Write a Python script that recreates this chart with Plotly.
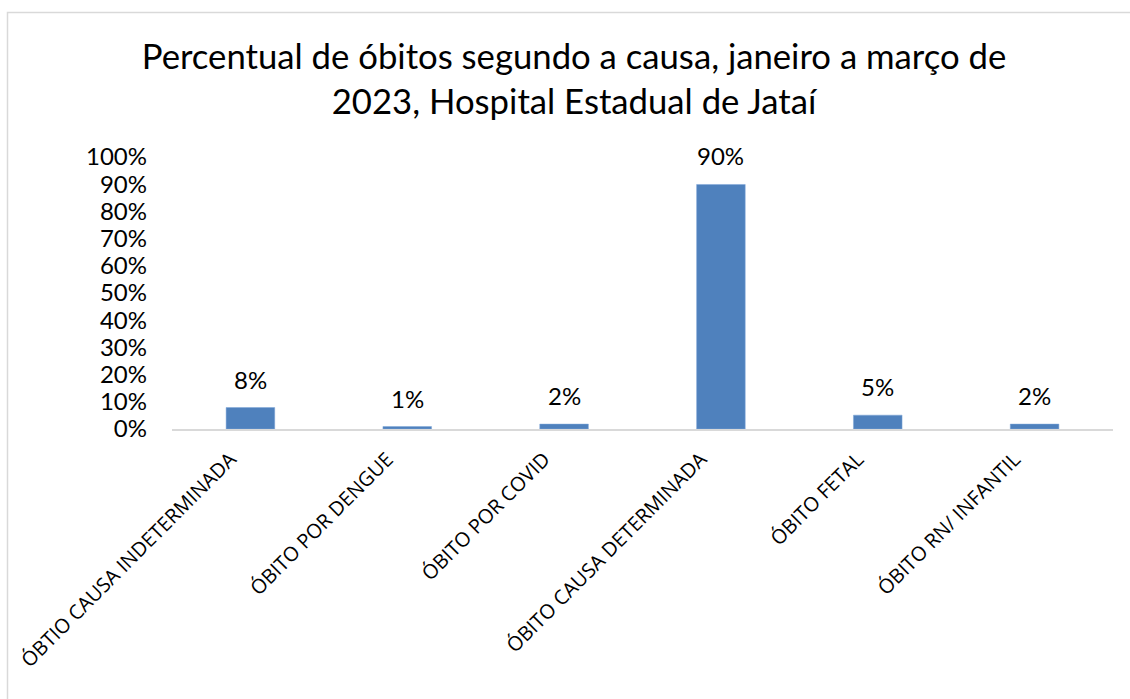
import plotly.graph_objects as go

categories = ["ÓBTIO CAUSA INDETERMINADA", "ÓBITO POR DENGUE", "ÓBITO POR COVID",
              "ÓBITO CAUSA DETERMINADA", "ÓBITO FETAL", "ÓBITO RN/ INFANTIL"]
values = [0.079, 0.009, 0.018, 0.899, 0.051, 0.018]
tick_vals = [i / 10 for i in range(11)]
tick_text = [f"{i * 10}%" for i in range(11)]
title_text = "Percentual de óbitos segundo a causa, janeiro a março de<br>2023, Hospital Estadual de Jataí"

W, H = 1130, 699
ml, mr, mt, mb = 172, 17, 157, 270
pw, ph = W - ml - mr, H - mt - mb

def sx(px):
    return (px - ml) / pw

def sy(py):
    return (H - mb - py) / ph

fig = go.Figure(go.Bar(
    x=categories, y=values,
    marker=dict(color="#4f81bd", line=dict(color="#7ea6d8", width=0.5)),
    width=0.31,
))

for c, v in zip(categories, values):
    fig.add_annotation(x=c, y=v, text=f"{round(v * 100)}%", showarrow=False,
                       xanchor="center", yanchor="bottom", yshift=12,
                       font=dict(family="Lato, Open Sans", size=24, color="#000000"))

fig.update_layout(
    width=W, height=H,
    margin=dict(l=ml, r=mr, t=mt, b=mb, autoexpand=False),
    paper_bgcolor="white", plot_bgcolor="white",
    showlegend=False,
    title=dict(text=title_text, x=574 / W, xanchor="center",
               y=1 - 69 / H, yanchor="middle",
               font=dict(family="Lato, Open Sans, sans-serif", size=34.7, color="#000000")),
    xaxis=dict(
        tickangle=-45, showline=True, linecolor="#d9d9d9", linewidth=1.5,
        showgrid=False, ticks="", zeroline=False,
        tickfont=dict(family="Open Sans, DejaVu Sans", size=20, color="#000000"),
        ticklabelshift=-20, ticklabelstandoff=9,
    ),
    yaxis=dict(
        range=[0, 1], tickvals=tick_vals, ticktext=tick_text,
        showgrid=False, zeroline=False, showline=False, ticks="",
        tickfont=dict(family="Lato, Open Sans", size=24, color="#000000"),
        ticklabelstandoff=24,
    ),
    bargap=0.69,
    shapes=[dict(type="rect", xref="paper", yref="paper",
                 x0=sx(7.5), x1=sx(1150),
                 y0=sy(12.5), y1=sy(720),
                 line=dict(color="#d9d9d9", width=1.5), fillcolor="rgba(0,0,0,0)",
                 layer="below")],
)

fig.write_html("out.html", config={"displayModeBar": False},
               post_script="document.body.style.margin='0';document.body.style.overflow='hidden';")
